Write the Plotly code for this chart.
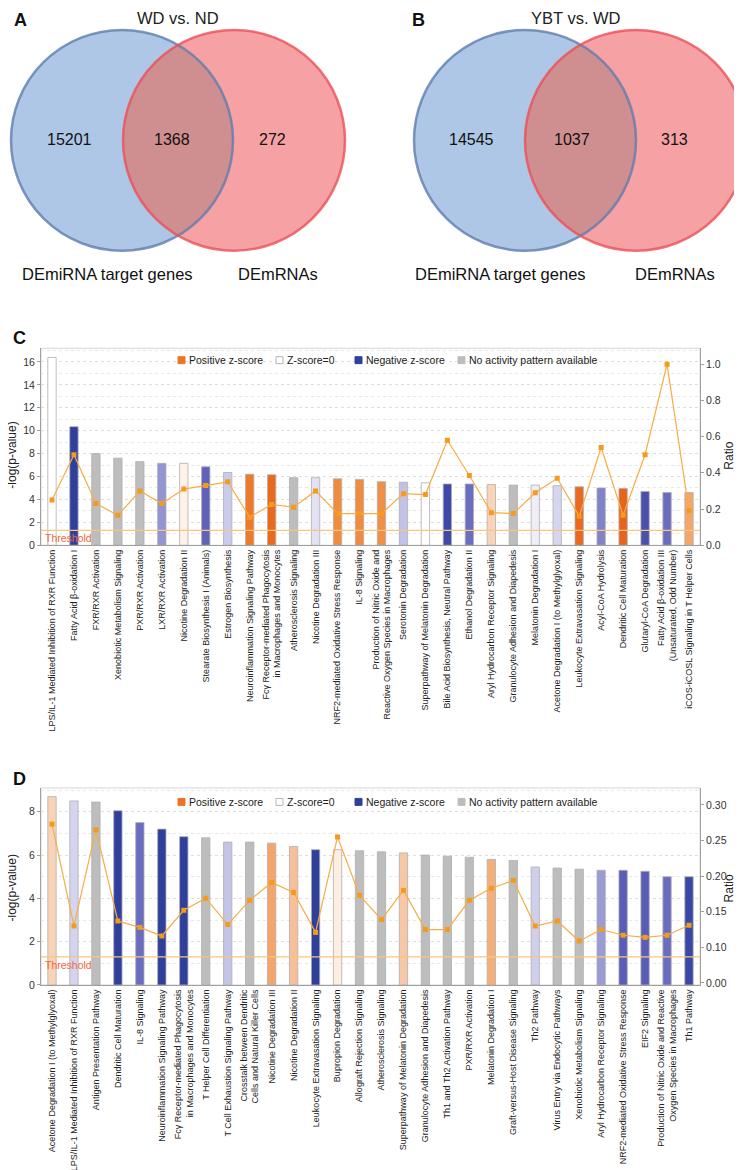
import numpy as np
import plotly.graph_objects as go

W, H = 742, 1170
FONT = "Liberation Sans, Arial, sans-serif"

def fx(p):
    return p / W

def fy(p):
    return 1 - p / H

# ---------------- data ----------------
venn_titles = ["WD vs. ND", "YBT vs. WD"]
venn_panel = ["A", "B"]
venn_left_only = [15201, 14545]
venn_both = [1368, 1037]
venn_right_only = [272, 313]
venn_set_names = ["DEmiRNA target genes", "DEmRNAs"]

c_pathways = [
    "LPS/IL-1 Mediated Inhibition of RXR Function",
    "Fatty Acid β-oxidation I",
    "FXR/RXR Activation",
    "Xenobiotic Metabolism Signaling",
    "PXR/RXR Activation",
    "LXR/RXR Activation",
    "Nicotine Degradation II",
    "Stearate Biosynthesis I (Animals)",
    "Estrogen Biosynthesis",
    "Neuroinflammation Signaling Pathway",
    "Fcγ Receptor-mediated Phagocytosis<br>in Macrophages and Monocytes",
    "Atherosclerosis Signaling",
    "Nicotine Degradation III",
    "NRF2-mediated Oxidative Stress Response",
    "IL-8 Signaling",
    "Production of Nitric Oxide and<br>Reactive Oxygen Species in Macrophages",
    "Serotonin Degradation",
    "Superpathway of Melatonin Degradation",
    "Bile Acid Biosynthesis, Neutral Pathway",
    "Ethanol Degradation II",
    "Aryl Hydrocarbon Receptor Signaling",
    "Granulocyte Adhesion and Diapedesis",
    "Melatonin Degradation I",
    "Acetone Degradation I (to Methylglyoxal)",
    "Leukocyte Extravasation Signaling",
    "Acyl-CoA Hydrolysis",
    "Dendritic Cell Maturation",
    "Glutaryl-CoA Degradation",
    "Fatty Acid β-oxidation III<br>(Unsaturated, Odd Number)",
    "iCOS-iCOSL Signaling in T Helper Cells",
]
c_logp = [16.4, 10.35, 8.0, 7.6, 7.3, 7.15, 7.15, 6.85, 6.35, 6.2, 6.15, 5.9, 5.9,
          5.8, 5.75, 5.55, 5.5, 5.45, 5.35, 5.35, 5.3, 5.25, 5.25, 5.2, 5.1, 5.0,
          4.95, 4.7, 4.6, 4.6]
c_ratio = [0.25, 0.50, 0.23, 0.165, 0.30, 0.23, 0.31, 0.33, 0.35, 0.155, 0.225,
           0.21, 0.30, 0.175, 0.175, 0.175, 0.285, 0.28, 0.58, 0.385, 0.18, 0.175,
           0.29, 0.37, 0.16, 0.54, 0.165, 0.50, 1.0, 0.19]
c_colors = ["#ffffff", "#2f3f9c", "#bdbdbd", "#bdbdbd", "#bdbdbd", "#9494d2",
            "#fdf3ea", "#5f62b8", "#cbcbec", "#ee7a2a", "#ea6a1d", "#bdbdbd",
            "#e2e2f4", "#f08c40", "#f08c40", "#f09048", "#c2c2e6", "#ffffff",
            "#3f48a6", "#6b6ec0", "#f9d5b8", "#bdbdbd", "#eeeef8", "#d6d6f0",
            "#ea6820", "#8282c8", "#e8641c", "#4a50ab", "#6a6cc0", "#f5a669"]

d_pathways = [
    "Acetone Degradation I (to Methylglyoxal)",
    "LPS/IL-1 Mediated Inhibition of RXR Function",
    "Antigen Presentation Pathway",
    "Dendritic Cell Maturation",
    "IL-8 Signaling",
    "Neuroinflammation Signaling Pathway",
    "Fcγ Receptor-mediated Phagocytosis<br>in Macrophages and Monocytes",
    "T Helper Cell Differentiation",
    "T Cell Exhaustion Signaling Pathway",
    "Crosstalk between Dendritic<br>Cells and Natural Killer Cells",
    "Nicotine Degradation III",
    "Nicotine Degradation II",
    "Leukocyte Extravasation Signaling",
    "Bupropion Degradation",
    "Allograft Rejection Signaling",
    "Atherosclerosis Signaling",
    "Superpathway of Melatonin Degradation",
    "Granulocyte Adhesion and Diapedesis",
    "Th1 and Th2 Activation Pathway",
    "PXR/RXR Activation",
    "Melatonin Degradation I",
    "Graft-versus-Host Disease Signaling",
    "Th2 Pathway",
    "Virus Entry via Endocytic Pathways",
    "Xenobiotic Metabolism Signaling",
    "Aryl Hydrocarbon Receptor Signaling",
    "NRF2-mediated Oxidative Stress Response",
    "EIF2 Signaling",
    "Production of Nitric Oxide and Reactive<br>Oxygen Species in Macrophages",
    "Th1 Pathway",
]
d_logp = [8.7, 8.5, 8.45, 8.05, 7.5, 7.2, 6.85, 6.8, 6.6, 6.6, 6.55, 6.4, 6.25,
          6.25, 6.2, 6.15, 6.1, 6.0, 5.95, 5.9, 5.8, 5.75, 5.45, 5.4, 5.35, 5.3,
          5.3, 5.25, 5.0, 5.0]
d_ratio = [0.273, 0.130, 0.265, 0.137, 0.128, 0.116, 0.152, 0.169, 0.132, 0.166,
           0.191, 0.177, 0.121, 0.255, 0.173, 0.139, 0.180, 0.125, 0.125, 0.166,
           0.183, 0.194, 0.130, 0.137, 0.109, 0.125, 0.117, 0.114, 0.117, 0.131]
d_colors = ["#f9d3b5", "#d4d4ee", "#bdbdbd", "#2f3f9c", "#6a6cbf", "#2f3f9c",
            "#2f3f9c", "#bdbdbd", "#c4c4e8", "#bdbdbd", "#f3a66a", "#f7c09a",
            "#2f3f9c", "#fdeee0", "#bdbdbd", "#bdbdbd", "#f7c8a5", "#bdbdbd",
            "#bdbdbd", "#bdbdbd", "#f5b07a", "#bdbdbd", "#cfcfec", "#bdbdbd",
            "#bdbdbd", "#9b9bd6", "#5a5db8", "#5a5db8", "#6a6cc0", "#3b47a5"]

legend_labels = ["Positive z-score", "Z-score=0", "Negative z-score",
                 "No activity pattern available"]
legend_colors = ["#ee7424", "#ffffff", "#2f3f9c", "#bdbdbd"]

threshold = 1.3  # -log(0.05)

c_ratio_ticks = [0.0, 0.2, 0.4, 0.6, 0.8, 1.0]
c_ratio_ticktext = ["0.0", "0.2", "0.4", "0.6", "0.8", "1.0"]
d_ratio_ticks = [0.05, 0.10, 0.15, 0.20, 0.25, 0.30]
d_ratio_ticktext = ["0.00", "0.10", "0.15", "0.20", "0.25", "0.30"]

# ---------------- figure ----------------
fig = go.Figure()
shapes = []
annotations = []


def ann(text, xp, yp, size, color="#111", xanchor="center", yanchor="middle", **kw):
    annotations.append(dict(text=text, x=fx(xp), y=fy(yp), xref="paper", yref="paper",
                            xanchor=xanchor, yanchor=yanchor, showarrow=False,
                            font=dict(size=size, color=color, family=FONT), **kw))


def lens_path(c1, c2, r, n=60):
    (x1, y1), (x2, y2) = c1, c2
    d = x2 - x1
    a = d / 2.0
    h = np.sqrt(r * r - a * a)
    ang = np.arctan2(h, a)
    t1 = np.linspace(-ang, ang, n)
    p1 = [(x1 + r * np.cos(t), y1 + r * np.sin(t)) for t in t1]
    ang2 = np.arctan2(h, -a)
    t2 = np.linspace(ang2, 2 * np.pi - ang2, n)
    p2 = [(x2 + r * np.cos(t), y2 + r * np.sin(t)) for t in t2]
    pts = p1 + p2
    return "M " + " L ".join(f"{fx(px):.5f},{fy(py):.5f}" for px, py in pts) + " Z"


# Venn diagrams (A, B)
venn_geom = [
    dict(blue=(114, 133), red=(226, 133), r=111, nums=(61, 164, 264),
         title_x=170, letter_x=4, lab=(100, 270)),
    dict(blue=(517, 133), red=(628, 133), r=111, nums=(463, 564, 666),
         title_x=568, letter_x=402, lab=(492, 667)),
]
for i, g in enumerate(venn_geom):
    r = g["r"]
    for key, fill in [("blue", "#aec7e6"), ("red", "#f6a1a4")]:
        cx, cy = g[key]
        shapes.append(dict(type="circle", xref="paper", yref="paper",
                           x0=fx(cx - r), x1=fx(cx + r), y0=fy(cy + r), y1=fy(cy - r),
                           fillcolor=fill, line=dict(width=0), layer="above"))
    shapes.append(dict(type="path", xref="paper", yref="paper",
                       path=lens_path(g["blue"], g["red"], r),
                       fillcolor="#cf8e90", line=dict(width=0), layer="above"))
    for key, line in [("blue", "rgba(95,125,175,0.8)"), ("red", "rgba(236,80,88,0.8)")]:
        cx, cy = g[key]
        shapes.append(dict(type="circle", xref="paper", yref="paper",
                           x0=fx(cx - r), x1=fx(cx + r), y0=fy(cy + r), y1=fy(cy - r),
                           fillcolor="rgba(0,0,0,0)", line=dict(color=line, width=2.5),
                           layer="above"))
    for val, xp in zip([venn_left_only[i], venn_both[i], venn_right_only[i]], g["nums"]):
        ann(str(val), xp, 132, 16)
    ann(venn_titles[i], g["title_x"], 10, 16.5, "#222")
    ann("<b>" + venn_panel[i] + "</b>", g["letter_x"], 12, 18, xanchor="left")
    for name, xp in zip(venn_set_names, g["lab"]):
        ann(name, xp, 267, 16.5)


def add_panel(letter, cats, logp, ratio, colors, xa, yl, yr, top_px, bot_px,
              lrange, ldtick, rrange, rticks, rticktext, letter_y, legend_y, title_y):
    xn = xa.replace("axis", "")
    yln = yl.replace("axis", "")
    yrn = yr.replace("axis", "")
    fig.add_trace(go.Bar(x=cats, y=logp, marker=dict(color=colors,
                         line=dict(color="rgba(175,175,175,0.8)", width=1)),
                         width=0.38, xaxis=xn, yaxis=yln, showlegend=False,
                         hoverinfo="x+y"))
    fig.add_trace(go.Scatter(x=cats, y=ratio, mode="lines+markers",
                             line=dict(color="#f7ac45", width=1.2),
                             marker=dict(symbol="square", size=5, color="#f59a1a"),
                             xaxis=xn, yaxis=yrn, showlegend=False))
    dom_y = [fy(bot_px), fy(top_px)]
    fig.update_layout(**{
        xa: dict(domain=[fx(33), fx(692)], anchor=yln, type="category",
                 range=[-0.5, len(cats) - 0.5], tickangle=-90,
                 tickfont=dict(size=9, color="#222", family=FONT),
                 showline=True, linecolor="#a0a0a0", ticks="", showgrid=False,
                 fixedrange=True),
        yl: dict(domain=dom_y, anchor=xn, range=lrange, dtick=ldtick,
                 tickfont=dict(size=10.5, color="#333", family=FONT),
                 showline=True, linecolor="#a0a0a0", ticks="outside", ticklen=3,
                 tickcolor="#a0a0a0", showgrid=True, gridcolor="#dedede",
                 griddash="dot", zeroline=False,
                 minor=dict(dtick=ldtick / 2, showgrid=True, gridcolor="#e8e8e8",
                            griddash="dot"),
                 fixedrange=True),
        yr: dict(domain=dom_y, anchor=xn, overlaying=yln, side="right", range=rrange,
                 tickvals=rticks, ticktext=rticktext,
                 tickfont=dict(size=10.5, color="#333", family=FONT),
                 showline=True, linecolor="#a0a0a0", ticks="outside", ticklen=3,
                 tickcolor="#a0a0a0", showgrid=False, zeroline=False,
                 fixedrange=True),
    })
    shapes.append(dict(type="rect", xref=xn + " domain", yref=yln + " domain",
                       x0=0, x1=1, y0=0, y1=1, line=dict(color="#d6d6d6", width=1),
                       layer="below"))
    shapes.append(dict(type="line", xref=xn + " domain", yref=yln, x0=0, x1=1,
                       y0=threshold, y1=threshold,
                       line=dict(color="#f9c57c", width=1.2), layer="above"))
    annotations.append(dict(text="Threshold", xref=xn + " domain", yref=yln, x=0.003,
                            y=threshold, xanchor="left", yanchor="top", showarrow=False,
                            font=dict(size=10.5, color="#f2673a", family=FONT)))
    ann("<b>" + letter + "</b>", 3, letter_y, 18, xanchor="left")
    # rotated titles (the rotated box renders a few px right of its anchor)
    ann("-log(p-value)", 4, title_y, 12, "#222", textangle=-90)
    ann("Ratio", 721, title_y, 12, "#222", textangle=-90)
    sq_x = [170, 268, 347, 450]
    for lab, col, sx in zip(legend_labels, legend_colors, sq_x):
        shapes.append(dict(type="rect", xref="paper", yref="paper",
                           x0=fx(sx), x1=fx(sx + 7), y0=fy(legend_y + 3.5),
                           y1=fy(legend_y - 3.5), fillcolor=col,
                           line=dict(color="#b5b5b5" if col == "#ffffff" else col, width=1)))
        ann(lab, sx + 9, legend_y, 10.5, "#222", xanchor="left")


add_panel("C", c_pathways, c_logp, c_ratio, c_colors, "xaxis3", "yaxis3", "yaxis4",
          342, 540, [0, 17.2], 2, [0, 1.088], c_ratio_ticks, c_ratio_ticktext,
          332, 354, 450)
add_panel("D", d_pathways, d_logp, d_ratio, d_colors, "xaxis4", "yaxis5", "yaxis6",
          784, 982, [0, 9.1], 2, [0.0472, 0.3237], d_ratio_ticks, d_ratio_ticktext,
          775, 798, 885)

fig.update_layout(width=W, height=H, margin=dict(l=0, r=0, t=0, b=0),
                  paper_bgcolor="white", plot_bgcolor="white",
                  shapes=shapes, annotations=annotations, showlegend=False,
                  bargap=0.6, font=dict(family=FONT))

fig.write_html("out.html")
